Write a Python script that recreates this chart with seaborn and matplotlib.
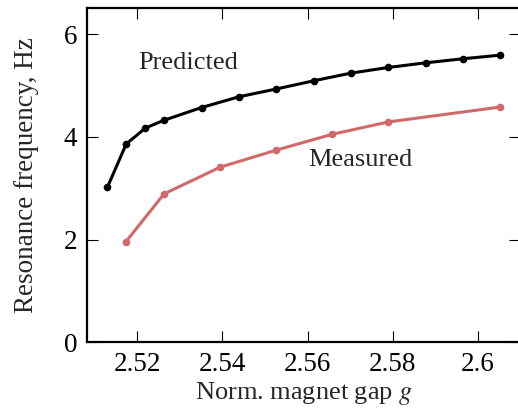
import numpy as np
import pandas as pd
import matplotlib
matplotlib.use("Agg")
import matplotlib.pyplot as plt
import seaborn as sns

# valeurs
gap_pred = [2.5130, 2.5174, 2.5219, 2.5262, 2.5351, 2.5439, 2.5526,
            2.5614, 2.5702, 2.5790, 2.5877, 2.5966, 2.6053]
freq_pred = [3.02, 3.86, 4.17, 4.32, 4.57, 4.78, 4.93,
             5.09, 5.24, 5.35, 5.44, 5.52, 5.59]

gap_meas = [2.5173, 2.5263, 2.5395, 2.5526, 2.5658, 2.5790, 2.6053]
freq_meas = [1.955, 2.89, 3.41, 3.74, 4.05, 4.29, 4.58]

x_ticks = [2.52, 2.54, 2.56, 2.58, 2.60]
x_tick_labels = ["2.52", "2.54", "2.56", "2.58", "2.6"]
y_ticks = [0, 2, 4, 6]

df_pred = pd.DataFrame({"gap": gap_pred, "freq": freq_pred})
df_meas = pd.DataFrame({"gap": gap_meas, "freq": freq_meas})

sns.set_style("ticks")
plt.rcParams["font.family"] = ["Liberation Serif", "DejaVu Serif"]
plt.rcParams["mathtext.fontset"] = "stix"
plt.rcParams["font.size"] = 19

fig = plt.figure(figsize=(5.18, 4.18), dpi=100)
ax = fig.add_axes([0.168, 0.181, 0.836, 0.799])

sns.lineplot(data=df_pred, x="gap", y="freq", ax=ax, color="black",
             marker="o", markersize=5.5, linewidth=2.2, markeredgewidth=0)
sns.lineplot(data=df_meas, x="gap", y="freq", ax=ax, color="#d06a6a",
             marker="o", markersize=5.5, linewidth=2.2, markeredgewidth=0)

ax.text(2.5202, 5.44, "Predicted", fontsize=19, va="center", ha="left")
ax.text(2.5602, 3.55, "Measured", fontsize=19, va="center", ha="left")

ax.set_xlim(2.5082, 2.6099)
ax.set_ylim(0, 6.5)
ax.set_xticks(x_ticks)
ax.set_xticklabels(x_tick_labels)
ax.set_yticks(y_ticks)
ax.tick_params(direction="in", top=True, right=True, length=8, width=0.8,
               labelsize=19.5, pad=7, colors="black")
for s in ax.spines.values():
    s.set_linewidth(1.6)
    s.set_color("black")

ax.set_xlabel("Norm. magnet gap $g$", fontsize=19, labelpad=2)
ax.set_ylabel("Resonance frequency, Hz", fontsize=19.5, labelpad=18)

fig.savefig("out.png", dpi=100)
